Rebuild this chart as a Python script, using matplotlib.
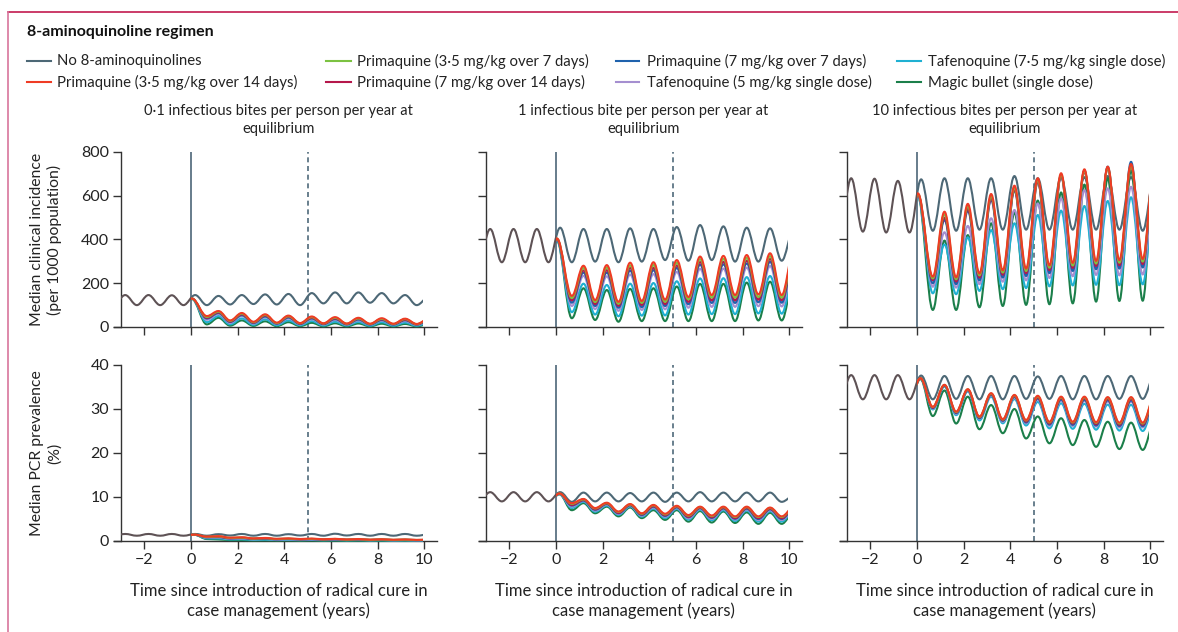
import matplotlib
matplotlib.use("Agg")
import matplotlib.pyplot as plt
from matplotlib.lines import Line2D
from matplotlib.patches import PathPatch, Rectangle
from matplotlib.path import Path

plt.rcParams["font.family"] = ["Lato", "DejaVu Sans"]

SERIES = [
    "No 8-aminoquinolines",
    "Primaquine (3·5 mg/kg over 7 days)",
    "Primaquine (7 mg/kg over 7 days)",
    "Tafenoquine (7·5 mg/kg single dose)",
    "Primaquine (3·5 mg/kg over 14 days)",
    "Primaquine (7 mg/kg over 14 days)",
    "Tafenoquine (5 mg/kg single dose)",
    "Magic bullet (single dose)",
]
COLORS = ["#4d6876", "#7cc242", "#1f62ad", "#1fb0d2",
          "#ef3b24", "#b5174b", "#a58fd0", "#1b7f4a"]
PRE_COLOR = "#5e5255"  # all runs overlap before time 0
DRAW_ORDER = [0, 7, 3, 6, 2, 5, 1, 4]

COL_TITLES = [
    "0·1 infectious bites per person per year at\nequilibrium",
    "1 infectious bite per person per year at\nequilibrium",
    "10 infectious bites per person per year at\nequilibrium",
]
ROW_LABELS = ["Median clinical incidence\n(per 1000 population)",
              "Median PCR prevalence\n(%)"]
X_LABEL = "Time since introduction of radical cure in\ncase management (years)"

# times of seasonal troughs and peaks (years)
PRE_TROUGH_T = [-3.32, -2.32, -1.32, -0.32]
PRE_PEAK_T = [-2.82, -1.82, -0.82]
POST_PEAK_T = [0.18, 1.18, 2.18, 3.18, 4.18, 5.18, 6.18, 7.18, 8.18, 9.18, 10.18]
POST_TROUGH_T = [0.68, 1.68, 2.68, 3.68, 4.68, 5.68, 6.68, 7.68, 8.68, 9.68]
# treated runs leave the untreated curve shortly after time 0
KNEE_T_INC = 0.04
KNEE_T_PCR = 0.15

# clinical incidence, 0.1 bites
INC_LOW_PRE_PEAKS = [146, 146, 145]
INC_LOW_PRE_TROUGHS = [100, 100, 100, 100]
INC_LOW_PEAKS = [
    [146, 142, 146, 149, 151, 155, 158, 158, 155, 146, 135],
    [130, 70, 61, 55, 49, 45, 42, 39, 37, 36, 34],
    [130, 64, 54, 48, 43, 39, 36, 34, 32, 31, 29],
    [129, 50, 39, 35, 30, 27, 24, 23, 22, 20, 19],
    [130, 73, 64, 58, 52, 48, 45, 42, 40, 38, 36],
    [130, 67, 58, 52, 46, 42, 39, 37, 35, 33, 31],
    [129, 59, 50, 44, 39, 35, 32, 30, 29, 27, 26],
    [128, 42, 30, 26, 22, 19, 17, 16, 15, 14, 13],
]
INC_LOW_TROUGHS = [
    [100, 103, 105, 103, 100, 108, 108, 111, 108, 100],
    [46, 28, 22, 18, 17, 16, 15, 14, 14, 13],
    [39, 23, 18, 15, 14, 13, 12, 11, 11, 11],
    [22, 12, 10, 8, 8, 7, 7, 6, 6, 6],
    [50, 30, 24, 20, 18, 17, 16, 15, 15, 14],
    [42, 25, 20, 17, 15, 14, 13, 13, 13, 12],
    [33, 19, 15, 13, 12, 11, 10, 10, 10, 9],
    [12, 6, 5, 4, 4, 3, 3, 3, 3, 3],
]

# clinical incidence, 1 bite
INC_MID_PRE_PEAKS = [448, 448, 448]
INC_MID_PRE_TROUGHS = [296, 296, 296, 296]
INC_MID_PEAKS = [
    [454, 448, 448, 451, 448, 457, 466, 460, 454, 451, 440],
    [404, 270, 272, 282, 284, 294, 310, 312, 316, 324, 324],
    [400, 249, 249, 258, 260, 270, 285, 287, 291, 298, 298],
    [397, 198, 192, 198, 201, 209, 222, 223, 228, 233, 233],
    [405, 280, 283, 294, 296, 306, 322, 325, 329, 337, 337],
    [402, 259, 260, 270, 272, 282, 297, 299, 304, 311, 311],
    [399, 234, 232, 240, 242, 252, 266, 267, 272, 279, 279],
    [395, 177, 169, 174, 177, 185, 197, 197, 203, 207, 207],
]
INC_MID_TROUGHS = [
    [296, 299, 296, 299, 306, 303, 306, 299, 299, 303],
    [132, 114, 106, 110, 115, 126, 134, 134, 137, 134],
    [111, 96, 88, 91, 96, 104, 110, 110, 113, 111],
    [68, 57, 49, 52, 53, 57, 59, 59, 62, 61],
    [142, 123, 115, 119, 125, 137, 146, 146, 149, 146],
    [122, 105, 97, 101, 105, 115, 122, 122, 125, 123],
    [96, 82, 74, 78, 81, 88, 92, 92, 95, 94],
    [40, 32, 24, 27, 27, 27, 27, 27, 30, 30],
]

# clinical incidence, 10 bites
INC_HIGH_PRE_PEAKS = [680, 678, 668]
INC_HIGH_PRE_TROUGHS = [436, 436, 432, 432]
INC_HIGH_PEAKS = [
    [675, 680, 680, 680, 690, 680, 685, 685, 690, 685, 680],
    [608, 515, 552, 598, 636, 672, 697, 715, 728, 738, 738],
    [605, 490, 532, 582, 625, 665, 694, 716, 733, 755, 755],
    [598, 377, 410, 443, 474, 512, 532, 553, 576, 593, 593],
    [611, 527, 563, 608, 646, 680, 703, 721, 733, 745, 745],
    [606, 500, 540, 588, 628, 665, 692, 712, 727, 738, 738],
    [600, 433, 462, 497, 535, 565, 588, 626, 634, 641, 641],
    [598, 395, 420, 474, 523, 578, 615, 651, 680, 716, 760],
]
INC_HIGH_TROUGHS = [
    [440, 440, 445, 445, 445, 445, 445, 445, 445, 440],
    [222, 218, 236, 249, 256, 271, 281, 290, 294, 299],
    [200, 196, 213, 226, 233, 246, 256, 264, 267, 272],
    [154, 150, 165, 173, 178, 186, 190, 193, 191, 195],
    [230, 227, 245, 259, 267, 282, 293, 302, 306, 311],
    [214, 208, 226, 239, 246, 260, 270, 279, 282, 288],
    [184, 180, 196, 207, 213, 224, 232, 238, 236, 240],
    [78, 78, 90, 96, 101, 104, 108, 116, 119, 120],
]

# PCR prevalence, 0.1 bites
PCR_LOW_PRE_PEAKS = [1.6, 1.6, 1.6]
PCR_LOW_PRE_TROUGHS = [1.2, 1.2, 1.2, 1.2]
PCR_LOW_PEAKS = [
    [1.6, 1.55, 1.6, 1.6, 1.55, 1.6, 1.65, 1.6, 1.6, 1.6, 1.5],
    [1.45, 1.02, 0.78, 0.64, 0.55, 0.5, 0.46, 0.41, 0.37, 0.32, 0.28],
    [1.43, 0.87, 0.66, 0.54, 0.46, 0.42, 0.37, 0.34, 0.3, 0.26, 0.23],
    [1.41, 0.58, 0.4, 0.31, 0.26, 0.24, 0.21, 0.19, 0.16, 0.14, 0.13],
    [1.45, 1.1, 0.85, 0.7, 0.6, 0.55, 0.5, 0.45, 0.4, 0.35, 0.3],
    [1.44, 0.95, 0.72, 0.59, 0.5, 0.46, 0.42, 0.37, 0.33, 0.29, 0.25],
    [1.42, 0.76, 0.56, 0.45, 0.38, 0.35, 0.31, 0.28, 0.25, 0.22, 0.19],
    [1.4, 0.35, 0.2, 0.15, 0.12, 0.1, 0.08, 0.07, 0.06, 0.05, 0.05],
]
PCR_LOW_TROUGHS = [
    [1.2, 1.25, 1.2, 1.2, 1.25, 1.2, 1.25, 1.2, 1.2, 1.2],
    [0.95, 0.7, 0.55, 0.46, 0.41, 0.37, 0.32, 0.28, 0.26, 0.23],
    [0.84, 0.59, 0.46, 0.38, 0.34, 0.3, 0.26, 0.23, 0.21, 0.19],
    [0.6, 0.36, 0.26, 0.22, 0.19, 0.16, 0.14, 0.13, 0.11, 0.1],
    [1.0, 0.75, 0.6, 0.5, 0.45, 0.4, 0.35, 0.3, 0.28, 0.25],
    [0.89, 0.64, 0.5, 0.42, 0.38, 0.33, 0.29, 0.25, 0.23, 0.21],
    [0.75, 0.5, 0.38, 0.32, 0.28, 0.25, 0.22, 0.19, 0.17, 0.16],
    [0.45, 0.2, 0.12, 0.1, 0.08, 0.06, 0.05, 0.05, 0.04, 0.04],
]

# PCR prevalence, 1 bite
PCR_MID_PRE_PEAKS = [11.1, 11.1, 11.1]
PCR_MID_PRE_TROUGHS = [9.0, 9.0, 9.0, 9.0]
PCR_MID_PEAKS = [
    [11.1, 11.0, 11.0, 10.9, 11.0, 11.0, 11.1, 11.0, 11.0, 11.0, 10.2],
    [10.8, 9.45, 8.6, 8.3, 8.1, 7.9, 7.7, 7.7, 7.7, 7.5, 7.5],
    [10.75, 9.2, 8.4, 8.1, 7.8, 7.65, 7.45, 7.4, 7.35, 7.2, 7.2],
    [10.65, 8.9, 8.05, 7.85, 7.35, 7.3, 7.1, 7.0, 6.9, 6.75, 6.75],
    [10.8, 9.55, 8.7, 8.4, 8.2, 8.0, 7.8, 7.8, 7.8, 7.6, 7.6],
    [10.75, 9.3, 8.5, 8.2, 7.9, 7.75, 7.55, 7.5, 7.5, 7.3, 7.3],
    [10.7, 9.1, 8.25, 8.0, 7.6, 7.5, 7.3, 7.25, 7.15, 7.0, 7.0],
    [10.6, 8.6, 7.8, 7.6, 7.0, 7.0, 6.8, 6.7, 6.5, 6.4, 6.4],
]
PCR_MID_TROUGHS = [
    [8.9, 9.0, 9.0, 9.0, 8.9, 9.0, 9.0, 9.0, 9.0, 8.9],
    [8.45, 7.4, 6.6, 6.2, 6.05, 5.75, 5.65, 5.45, 5.45, 5.45],
    [8.05, 7.1, 6.3, 5.9, 5.7, 5.4, 5.25, 5.05, 5.0, 5.0],
    [7.5, 6.65, 5.95, 5.55, 5.2, 4.85, 4.7, 4.55, 4.4, 4.4],
    [8.6, 7.5, 6.7, 6.3, 6.2, 5.9, 5.8, 5.6, 5.6, 5.6],
    [8.2, 7.2, 6.4, 6.05, 5.85, 5.5, 5.4, 5.2, 5.2, 5.2],
    [7.8, 6.9, 6.15, 5.75, 5.5, 5.15, 5.0, 4.85, 4.75, 4.75],
    [7.0, 6.3, 5.6, 5.2, 4.8, 4.4, 4.2, 4.1, 3.9, 3.9],
]

# PCR prevalence, 10 bites
PCR_HIGH_PRE_PEAKS = [37.7, 37.7, 37.7]
PCR_HIGH_PRE_TROUGHS = [32.2, 32.2, 32.2, 32.2]
PCR_HIGH_PEAKS = [
    [37.6, 37.5, 37.5, 37.5, 37.5, 37.4, 37.5, 37.5, 37.5, 37.5, 37.5],
    [37.0, 35.45, 34.45, 33.5, 33.1, 32.85, 32.65, 32.65, 32.55, 32.55, 32.55],
    [36.95, 35.3, 34.3, 33.25, 32.8, 32.4, 32.15, 32.1, 32.0, 31.95, 31.95],
    [36.95, 35.1, 34.0, 32.8, 32.25, 31.6, 31.3, 31.2, 31.0, 30.95, 30.95],
    [37.0, 35.5, 34.5, 33.6, 33.2, 33.0, 32.8, 32.8, 32.7, 32.7, 32.7],
    [37.0, 35.4, 34.35, 33.4, 32.95, 32.6, 32.4, 32.4, 32.25, 32.25, 32.25],
    [36.95, 35.25, 34.2, 33.1, 32.6, 32.15, 31.9, 31.85, 31.7, 31.65, 31.65],
    [36.8, 34.2, 32.8, 30.9, 30.0, 28.3, 27.9, 27.5, 27.1, 26.9, 26.9],
]
PCR_HIGH_TROUGHS = [
    [32.2, 32.3, 32.2, 32.2, 32.3, 32.3, 32.2, 32.2, 32.3, 32.3],
    [30.45, 29.3, 28.2, 27.6, 27.4, 26.95, 26.95, 26.85, 26.7, 26.7],
    [30.2, 29.05, 27.9, 27.3, 26.95, 26.45, 26.4, 26.25, 26.1, 26.1],
    [29.9, 28.6, 27.4, 26.75, 26.25, 25.6, 25.5, 25.3, 25.1, 25.0],
    [30.5, 29.4, 28.3, 27.7, 27.5, 27.1, 27.1, 27.0, 26.9, 26.9],
    [30.3, 29.2, 28.05, 27.45, 27.15, 26.7, 26.7, 26.55, 26.4, 26.4],
    [30.1, 28.9, 27.8, 27.1, 26.75, 26.2, 26.15, 26.0, 25.8, 25.8],
    [28.4, 26.7, 25.4, 24.5, 23.3, 22.2, 21.8, 21.4, 20.9, 20.7],
]

PANELS = [
    [(INC_LOW_PRE_PEAKS, INC_LOW_PRE_TROUGHS, INC_LOW_PEAKS, INC_LOW_TROUGHS),
     (INC_MID_PRE_PEAKS, INC_MID_PRE_TROUGHS, INC_MID_PEAKS, INC_MID_TROUGHS),
     (INC_HIGH_PRE_PEAKS, INC_HIGH_PRE_TROUGHS, INC_HIGH_PEAKS, INC_HIGH_TROUGHS)],
    [(PCR_LOW_PRE_PEAKS, PCR_LOW_PRE_TROUGHS, PCR_LOW_PEAKS, PCR_LOW_TROUGHS),
     (PCR_MID_PRE_PEAKS, PCR_MID_PRE_TROUGHS, PCR_MID_PEAKS, PCR_MID_TROUGHS),
     (PCR_HIGH_PRE_PEAKS, PCR_HIGH_PRE_TROUGHS, PCR_HIGH_PEAKS, PCR_HIGH_TROUGHS)],
]
ROW_YMAX = [800, 40]
ROW_YTICKS = [[0, 200, 400, 600, 800], [0, 10, 20, 30, 40]]
ROW_KNEE = [KNEE_T_INC, KNEE_T_PCR]
X_TICKS = [-2, 0, 2, 4, 6, 8, 10]

W, H = 1178, 632
COL_LEFT = [114, 479, 840]
AX_W = 323
ROW_TOP = [152, 365]
AX_H = [175, 176]
TEXT = "#222222"


def extrema(pre_peaks, pre_troughs, peaks, troughs, knee_t, treated):
    ts, ys = [], []
    for i in range(len(pre_troughs)):
        ts.append(PRE_TROUGH_T[i])
        ys.append(pre_troughs[i])
        if i < len(pre_peaks):
            ts.append(PRE_PEAK_T[i])
            ys.append(pre_peaks[i])
    for i in range(len(peaks)):
        t = knee_t if (treated and i == 0) else POST_PEAK_T[i]
        ts.append(t)
        ys.append(peaks[i])
        if i < len(troughs):
            ts.append(POST_TROUGH_T[i])
            ys.append(troughs[i])
    return ts, ys


def seasonal_path(ts, ys, k=0.3642):
    # cubic bezier through the extrema, flat tangents at each turning point
    verts = [(ts[0], ys[0])]
    codes = [Path.MOVETO]
    for t0, y0, t1, y1 in zip(ts[:-1], ys[:-1], ts[1:], ys[1:]):
        dt = t1 - t0
        verts += [(t0 + k * dt, y0), (t1 - k * dt, y1), (t1, y1)]
        codes += [Path.CURVE4] * 3
    return Path(verts, codes)


def add_curve(ax, path, color, lw, x0, x1, ymax):
    clip = Rectangle((x0, -ymax), x1 - x0, 3 * ymax, transform=ax.transData)
    patch = PathPatch(path, facecolor="none", edgecolor=color, lw=lw,
                      capstyle="round", joinstyle="round", zorder=3)
    ax.add_patch(patch)
    patch.set_clip_path(clip)


fig = plt.figure(figsize=(W / 100, H / 100), dpi=100)

for r in range(2):
    for c in range(3):
        ax = fig.add_axes([COL_LEFT[c] / W, 1 - (ROW_TOP[r] + AX_H[r]) / H,
                           AX_W / W, AX_H[r] / H])
        ymax = ROW_YMAX[r]
        ax.set_xlim(-3.3, 10.55)
        ax.set_ylim(0, ymax)
        pre_p, pre_t, peaks, troughs = PANELS[r][c]

        ax.axvline(0, color="#5b7282", lw=1.3, zorder=1)
        ax.axvline(5, color="#4f6a7a", lw=1.2, ls=(0, (3, 2.2)), zorder=1)

        for s in DRAW_ORDER:
            ts, ys = extrema(pre_p, pre_t, peaks[s], troughs[s], ROW_KNEE[r], s != 0)
            path = seasonal_path(ts, ys)
            if s == 0:
                add_curve(ax, path, PRE_COLOR, 1.5, -3, 0.0, ymax)
            add_curve(ax, path, COLORS[s], 1.5, 0.0, 9.95, ymax)

        for side in ["top", "right"]:
            ax.spines[side].set_visible(False)
        ax.spines["left"].set_position(("data", -3))
        ax.spines["left"].set_bounds(0, ymax)
        for side in ["left", "bottom"]:
            ax.spines[side].set_color("#333333")
            ax.spines[side].set_linewidth(1.0)

        ax.set_xticks(X_TICKS)
        ax.set_yticks(ROW_YTICKS[r])
        ax.tick_params(direction="out", length=6, width=1.0, color="#333333",
                       labelsize=11.5, labelcolor=TEXT, pad=2.5)
        if r == 0:
            ax.set_xticklabels([])
        else:
            ax.set_xticklabels([str(v).replace("-", "\u2212") for v in X_TICKS])
        if c > 0:
            ax.set_yticklabels([])
        else:
            ax.set_yticklabels([str(v) for v in ROW_YTICKS[r]])

for c in range(3):
    cx = (COL_LEFT[c] + AX_W / 2 + 3) / W
    fig.text(cx, 1 - 120 / H, COL_TITLES[c], ha="center", va="center",
             fontsize=10.5, linespacing=1.45, color=TEXT)
    fig.text(cx, 1 - 601 / H, X_LABEL, ha="center", va="center",
             fontsize=12, linespacing=1.3, color=TEXT)

for r in range(2):
    cy = 1 - (ROW_TOP[r] + AX_H[r] / 2) / H
    fig.text(46 / W, cy, ROW_LABELS[r], rotation=90, ha="center", va="center",
             fontsize=11.3, linespacing=1.3, multialignment="center", color=TEXT)

# legend block
fig.text(27 / W, 1 - 32 / H, "8-aminoquinoline regimen", ha="left", va="center",
         fontsize=11.5, fontweight="bold", color="#111111")
LEG_LINE_X = [(27, 51), (326, 351), (616, 639), (897, 921)]
LEG_TEXT_X = [57, 357, 647, 928]
LEG_ROW_Y = [61, 82]
for i, name in enumerate(SERIES):
    row, col = divmod(i, 4)
    y = 1 - LEG_ROW_Y[row] / H
    x0, x1 = LEG_LINE_X[col]
    fig.add_artist(Line2D([x0 / W, x1 / W], [y, y], color=COLORS[i], lw=1.5,
                          transform=fig.transFigure))
    fig.text(LEG_TEXT_X[col] / W, y, name, ha="left", va="center",
             fontsize=10.7, color=TEXT)

# frame
fig.add_artist(Line2D([8 / W, 1], [1 - 12 / H, 1 - 12 / H], color="#c21a4f",
                      lw=1.2, transform=fig.transFigure))
fig.add_artist(Line2D([8 / W, 8 / W], [0, 1 - 12 / H], color="#d8769c",
                      lw=1.2, transform=fig.transFigure))

fig.savefig("out.png", dpi=100)
